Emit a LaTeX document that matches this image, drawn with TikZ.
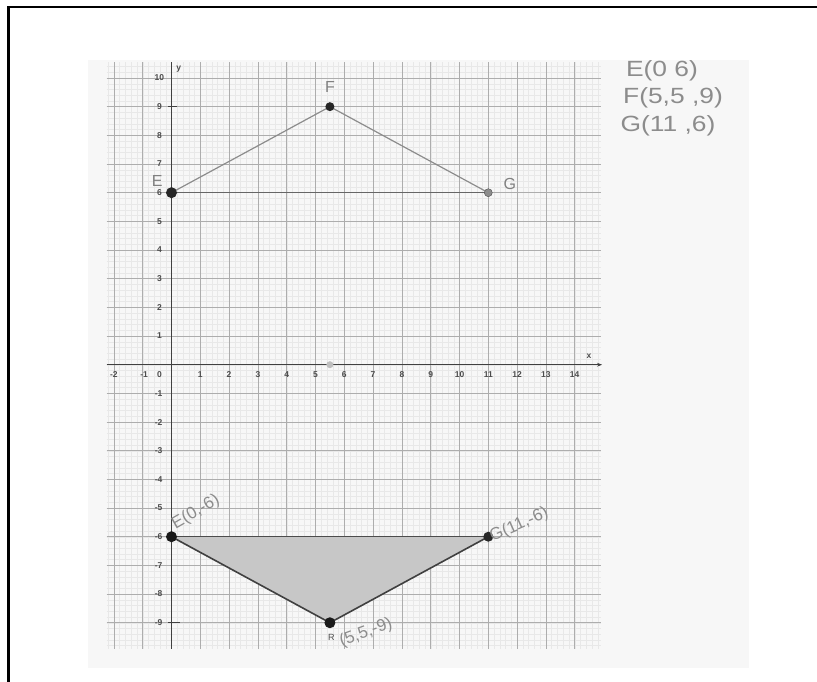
\documentclass[tikz,border=0pt]{standalone}
\usepackage{fontspec}
\setmainfont{Liberation Sans}
\usetikzlibrary{arrows.meta}
\tikzset{
  minorline/.style={draw=black!9, line width=0.4pt},
  majorline/.style={draw=black!32, line width=0.7pt},
  axisline/.style={draw=black!75, line width=1.1pt},
  ticklab/.style={font=\fontsize{8.5}{8.5}\selectfont\bfseries, text=black!70, inner sep=0pt},
  hand/.style={font=\fontsize{22}{22}\selectfont, text=black!45, inner sep=0pt, xscale=1.2},
  handsmall/.style={font=\fontsize{17}{17}\selectfont, text=black!45, inner sep=0pt},
  pointlab/.style={font=\fontsize{16}{16}\selectfont, text=black!50, inner sep=0pt},
  topedge/.style={draw=black!45, line width=1.2pt},
  botedge/.style={draw=black!75, line width=1.6pt}
}
\begin{document}
\begin{tikzpicture}[x=1pt,y=-1pt]
\useasboundingbox (0,0) rectangle (817,682);
% paper
\fill[black!3] (88,60) rectangle (749,668);
% frame
\draw[line width=2.6pt] (8.5,682) -- (8.5,7) -- (817,7);
\begin{scope}[shift={(171.5,364.7)}, x=28.8pt, y=28.67pt]
  % minor grid
  \foreach \i in {-11,...,74} \draw[minorline] (\i/5,-9.9) -- (\i/5,10.55);
  \foreach \j in {-49,...,52} \draw[minorline] (-2.25,\j/5) -- (14.9,\j/5);
  % major grid
  \foreach \i in {-2,...,14} \draw[majorline] (\i,-9.9) -- (\i,10.55);
  \foreach \j in {-9,...,10} \draw[majorline] (-2.25,\j) -- (14.9,\j);
  % axes
  \coordinate (xs) at (-2.25,0);
  \coordinate (xe) at (14.95,0);
  \coordinate (ys) at (0,-9.9);
  \coordinate (ye) at (0,10.55);
  \draw[axisline,-{Stealth[length=5pt]}] (xs) -- (xe);
  \draw[axisline] (ys) -- (ye);
  \node[ticklab] (xl) at (14.5,0.3) {x};
  \node[ticklab] (yl) at (0.25,10.3) {y};
  % x tick labels
  \foreach \i in {1,...,14} \node[ticklab] (xt\i) at (\i,-0.35) {\i};
  \node[ticklab] (xtm2) at (-2,-0.35) {-2};
  \node[ticklab] (xtm1) at (-0.95,-0.35) {-1};
  \node[ticklab] (xt0) at (-0.42,-0.35) {0};
  % y tick labels
  \foreach \j in {1,...,10} \node[ticklab] (yt\j) at (-0.42,\j) {\j};
  \foreach \j in {1,...,9} \node[ticklab] (ytm\j) at (-0.45,-\j) {-\j};
  \draw[axisline] (-0.12,9) -- (0.2,9);
  \draw[axisline] (-0.12,-9) -- (0.3,-9);
  % faint mark on x axis
  \fill[black!25] (5.5,0) circle (3.5pt);
  % top triangle
  \coordinate (E) at (0,6);
  \coordinate (F) at (5.5,9);
  \coordinate (G) at (11,6);
  \draw[topedge] (E) -- (F) -- (G);
  \draw[draw=black!60, line width=1.4pt] (E) -- (G);
  \fill[black!85] (E) circle (5.5pt);
  \fill[black!85] (F) circle (4.5pt);
  \filldraw[fill=black!45, draw=black!70] (G) circle (4pt);
  \node[pointlab] (Elab) at (-0.5,6.4) {E};
  \node[pointlab] (Flab) at (5.5,9.7) {F};
  \node[pointlab] (Glab) at (11.75,6.3) {G};
  % bottom triangle
  \coordinate (P) at (0,-6);
  \coordinate (R) at (5.5,-9);
  \coordinate (Q) at (11,-6);
  \fill[black!22] (P) -- (R) -- (Q) -- cycle;
  \draw[botedge] (P) -- (R) -- (Q);
  \draw[draw=black!70, line width=1.4pt] (P) -- (Q);
  \fill[black!90] (P) circle (5.5pt);
  \fill[black!90] (R) circle (5.5pt);
  \fill[black!85] (Q) circle (5pt);
  \node[ticklab, font=\fontsize{9}{9}\selectfont] (Rlab) at (5.55,-9.52) {R};
  \node[handsmall, rotate=30, anchor=south west] (Plab) at (0.2,-5.85) {E(0,-6)};
  \node[handsmall, rotate=24, anchor=south west] (Qlab) at (11.2,-6.3) {G(11,-6)};
  \node[handsmall, rotate=20, anchor=south west] (Rcoord) at (5.95,-9.95) {(5,5,-9)};
\end{scope}
% coordinates written at top right
\node[hand] (tE) at (662,71) {E(0 6)};
\node[hand] (tF) at (673,98) {F(5,5 ,9)};
\node[hand] (tG) at (668,126) {G(11 ,6)};
\end{tikzpicture}
\end{document}
